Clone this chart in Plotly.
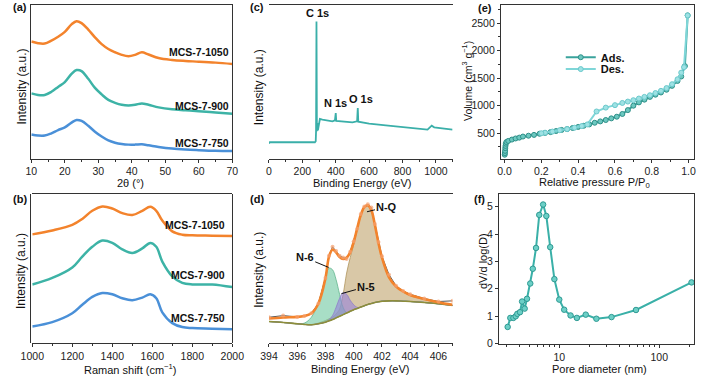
import plotly.graph_objects as go

W, H = 709, 381
FONT = "Arial"
ORANGE = "#F3832C"
TEAL = "#3DB3A6"
BLUE = "#4A90D8"
AX = "#333333"

# ---------------- (a) XRD ----------------
xrd_2theta = [10, 12, 14, 16, 18, 20, 22, 23.5, 25, 27, 29, 31, 33, 35, 37, 39, 41, 43, 45, 48, 52, 56, 60, 65, 70]
xrd_1050 = [362, 357, 356, 365, 377, 392, 415, 425, 419, 399, 375, 354, 339, 329, 321, 317, 321, 329, 322, 311, 305, 302, 300, 297, 293]
xrd_900 = [202, 197, 197, 207, 222, 237, 262, 274, 271, 247, 219, 199, 182, 173, 167, 165, 167, 171, 167, 159, 153, 150, 147, 143, 139]
xrd_750 = [75, 72, 72, 79, 89, 97, 112, 120, 117, 102, 84, 69, 57, 50, 46, 44, 44, 45, 42, 37, 32, 29, 27, 25, 24]

# ---------------- (b) Raman ----------------
raman_shift = [1000, 1100, 1200, 1250, 1300, 1350, 1400, 1450, 1500, 1550, 1590, 1620, 1650, 1700, 1750, 1800, 1900, 2000]
raman_1050 = [333, 345, 362, 380, 405, 418, 412, 398, 392, 405, 417, 405, 375, 342, 332, 330, 329, 328]
raman_900 = [180, 200, 232, 265, 295, 314, 307, 287, 276, 290, 307, 295, 250, 205, 185, 180, 180, 172]
raman_750 = [52, 65, 92, 118, 142, 154, 150, 138, 132, 140, 150, 138, 95, 62, 50, 47, 45, 43]

# ---------------- (c) XPS survey ----------------
survey_be = [0, 5, 100, 200, 275, 280, 282, 284.5, 287, 290, 293, 297, 305, 320, 350, 380, 395, 400, 403,
             450, 500, 528, 532, 535, 600, 700, 800, 900, 950, 975, 990, 1050, 1100]
survey_int = [46, 50, 50, 50, 50, 53, 83, 413, 83, 108, 86, 98, 120, 118, 115, 113, 116, 138, 114,
              113, 110, 113, 153, 112, 106, 101, 96, 91, 88, 100, 95, 91, 88]

# ---------------- (d) N 1s high resolution ----------------
n1s_be = [394, 395, 396, 396.5, 397, 397.5, 398, 398.25, 398.5, 398.75, 399, 399.25, 399.5, 399.75, 400,
          400.25, 400.5, 400.75, 401, 401.25, 401.5, 401.75, 402, 402.5, 403, 403.5, 404, 405, 406, 407]
n1s_raw = [80, 85, 81, 84, 92, 122, 200, 268, 295, 282, 268, 262, 258, 280, 312,
           350, 395, 418, 425, 415, 365, 310, 266, 210, 176, 160, 150, 137, 128, 130]
n1s_envelope = [76, 79, 81, 84, 92, 122, 200, 265, 287, 278, 264, 258, 262, 278, 310,
                352, 392, 416, 422, 407, 362, 307, 262, 202, 174, 159, 148, 136, 126, 118]
n1s_background = [67, 64, 60, 58, 57, 60, 65, 69, 73, 78, 83, 88, 93, 98, 103,
                  107, 111, 115, 119, 122, 125, 127, 129, 130, 130, 129, 128, 125, 121, 116]
n1s_N6 = [67, 64, 60, 62, 80, 125, 200, 230, 225, 195, 150, 110, 94, 98, 103,
          107, 111, 115, 119, 122, 125, 127, 129, 130, 130, 129, 128, 125, 121, 116]
n1s_N5 = [67, 64, 60, 58, 57, 60, 65, 72, 85, 110, 138, 155, 150, 132, 118,
          110, 111, 115, 119, 122, 125, 127, 129, 130, 130, 129, 128, 125, 121, 116]
n1s_NQ = [67, 64, 60, 58, 57, 62, 70, 75, 80, 90, 105, 150, 215, 262, 302,
          348, 388, 413, 419, 404, 359, 304, 259, 200, 172, 157, 146, 134, 124, 116]

# ---------------- (e) N2 isotherm ----------------
ads_p = [0.001, 0.002, 0.003, 0.004, 0.005, 0.007, 0.01, 0.02, 0.04, 0.06, 0.08, 0.1, 0.13, 0.16, 0.19, 0.22,
         0.25, 0.28, 0.31, 0.34, 0.37, 0.4, 0.43, 0.46, 0.49, 0.52, 0.55, 0.58, 0.61, 0.64, 0.67, 0.7, 0.73,
         0.76, 0.79, 0.82, 0.85, 0.88, 0.91, 0.94, 0.96, 0.98, 0.995]
ads_v = [110, 140, 180, 230, 270, 310, 340, 360, 385, 405, 420, 440, 455, 470, 490, 505,
         520, 540, 560, 575, 595, 615, 635, 660, 690, 715, 740, 770, 800, 850, 920, 1000, 1060,
         1110, 1160, 1200, 1240, 1290, 1360, 1450, 1530, 1720, 2640]
des_p = [0.995, 0.975, 0.96, 0.94, 0.91, 0.88, 0.85, 0.82, 0.79, 0.76, 0.73, 0.7, 0.67, 0.64, 0.6,
         0.55, 0.5, 0.45, 0.42, 0.38, 0.34, 0.3, 0.26, 0.22, 0.2]
des_v = [2640, 1700, 1600, 1480, 1390, 1320, 1270, 1230, 1190, 1160, 1130, 1100, 1075, 1050, 1010,
         965, 895, 660, 630, 600, 575, 555, 530, 510, 500]

# ---------------- (f) pore size distribution ----------------
pore_d = [3.05, 3.24, 3.48, 3.67, 3.81, 4.05, 4.25, 4.51, 4.76, 5.13, 5.44, 5.86, 6.31, 6.9, 7.43, 8.12,
          8.94, 10.0, 11.2, 12.97, 15.0, 18.4, 23.5, 33.3, 58.5, 210]
pore_dv = [0.60, 0.93, 0.93, 0.99, 1.08, 1.14, 1.53, 1.27, 1.63, 2.19, 2.73, 3.49, 4.70, 5.08, 4.66, 3.52,
           2.35, 1.60, 1.23, 1.02, 0.93, 1.05, 0.90, 0.96, 1.22, 2.23]


def xdom(x0, x1):
    return [x0 / W, x1 / W]


def ydom(y0, y1):
    return [1 - y1 / H, 1 - y0 / H]


TICKFONT = dict(family=FONT, size=10.5, color="#222")


def axis(dom, **kw):
    d = dict(domain=dom, showline=True, mirror=True, linecolor=AX, linewidth=1,
             showgrid=False, zeroline=False, ticks="outside", ticklen=3, tickcolor=AX,
             tickfont=TICKFONT)
    d.update(kw)
    return d


def noticks(dom, rng):
    return axis(dom, range=rng, showticklabels=False, ticks="")


def ann(text, x, y, size=11, bold=False, angle=0, xanchor="center", yanchor="middle"):
    return dict(text=("<b>%s</b>" % text) if bold else text, x=x / W, y=1 - y / H,
                xref="paper", yref="paper", showarrow=False, textangle=angle,
                xanchor=xanchor, yanchor=yanchor,
                font=dict(family=FONT, size=size, color="#111"))


fig = go.Figure()

# (a)
for ys, c in [(xrd_1050, ORANGE), (xrd_900, TEAL), (xrd_750, BLUE)]:
    fig.add_trace(go.Scatter(x=xrd_2theta, y=ys, mode="lines", line=dict(color=c, width=2.5, shape="spline"),
                             xaxis="x", yaxis="y", showlegend=False))
# (b)
for ys, c in [(raman_1050, ORANGE), (raman_900, TEAL), (raman_750, BLUE)]:
    fig.add_trace(go.Scatter(x=raman_shift, y=ys, mode="lines", line=dict(color=c, width=2.5, shape="spline"),
                             xaxis="x2", yaxis="y2", showlegend=False))
# (c)
fig.add_trace(go.Scatter(x=survey_be, y=survey_int, mode="lines", line=dict(color="#3AAFA9", width=1.8),
                         xaxis="x3", yaxis="y3", showlegend=False))

# (d) fitted components
rev_bg = n1s_background[::-1]
xs_poly = n1s_be + n1s_be[::-1]
for comp, fillc, linec in [(n1s_NQ, "rgba(196,170,120,0.65)", "#b0955e"),
                           (n1s_N6, "rgba(110,200,160,0.6)", "#62b58e"),
                           (n1s_N5, "rgba(150,130,220,0.6)", "#8f80c8")]:
    fig.add_trace(go.Scatter(x=xs_poly, y=comp + rev_bg, mode="lines", fill="toself", fillcolor=fillc,
                             line=dict(color=linec, width=0.8, shape="spline"),
                             xaxis="x4", yaxis="y4", showlegend=False, hoverinfo="skip"))
fig.add_trace(go.Scatter(x=n1s_be, y=n1s_background, mode="lines", line=dict(color="#8e8e3a", width=1.6, shape="spline"),
                         xaxis="x4", yaxis="y4", showlegend=False))
fig.add_trace(go.Scatter(x=n1s_be, y=n1s_raw, mode="lines", line=dict(color="#555555", width=1),
                         xaxis="x4", yaxis="y4", showlegend=False))
fig.add_trace(go.Scatter(x=n1s_be, y=n1s_envelope, mode="lines", line=dict(color=ORANGE, width=2.6, shape="spline"),
                         xaxis="x4", yaxis="y4", showlegend=False))
fig.add_trace(go.Scatter(x=n1s_be, y=n1s_raw, mode="markers",
                         marker=dict(size=4, color="rgba(245,160,110,0.7)", line=dict(width=0)),
                         xaxis="x4", yaxis="y4", showlegend=False))

# (e)
fig.add_trace(go.Scatter(x=ads_p, y=ads_v, mode="lines+markers", name="<b>Ads.</b>", legend="legend",
                         line=dict(color="#3AA39C", width=2),
                         marker=dict(symbol="circle", size=5, color="#6CC8C0", line=dict(color="#2E8F88", width=1)),
                         xaxis="x5", yaxis="y5"))
fig.add_trace(go.Scatter(x=des_p, y=des_v, mode="lines+markers", name="<b>Des.</b>", legend="legend2",
                         line=dict(color="#7FD6D8", width=2),
                         marker=dict(symbol="circle", size=5, color="#9EE2E4", line=dict(color="#6CC9CC", width=1)),
                         xaxis="x5", yaxis="y5"))

# (f)
fig.add_trace(go.Scatter(x=pore_d, y=pore_dv, mode="lines+markers", line=dict(color="#3AB0A8", width=2),
                         marker=dict(symbol="circle", size=5.5, color="#6CCFC6", line=dict(color="#2E9A93", width=1)),
                         xaxis="x6", yaxis="y6", showlegend=False))

minor_log = [3, 4, 5, 6, 7, 8, 9, 20, 30, 40, 50, 60, 70, 80, 90, 200]

annotations = [
    # panel letters
    ann("(a)", 8, 7, 11, True), ann("(b)", 8, 202, 11, True),
    ann("(c)", 254, 7, 11, True), ann("(d)", 254, 202, 11, True),
    ann("(e)", 490, 8, 11, True), ann("(f)", 484, 202, 11, True),
    # axis titles
    ann("Intensity (a.u.)", 10, 88, 12, angle=-90), ann("Intensity (a.u.)", 10, 275, 12, angle=-90),
    ann("Intensity (a.u.)", 256, 88, 12, angle=-90), ann("Intensity (a.u.)", 256, 273, 12, angle=-90),
    ann("Volume (cm<sup>3</sup> g<sup>−1</sup>)", 471, 82, 10.5, angle=-90),
    ann("dV/d log(D)", 487, 265, 11, angle=-90),
    ann("2θ (°)", 123, 185, 11), ann("Raman shift (cm<sup>−1</sup>)", 123, 374, 11),
    ann("Binding Energy (eV)", 362, 185, 11), ann("Binding Energy (eV)", 360, 374, 11),
    ann("Relative pressure P/P<sub>0</sub>", 603, 185, 11), ann("Pore diameter (nm)", 608, 374, 11),
    # sample labels
    ann("MCS-7-1050", 227, 53, 10.5, True, xanchor="right"),
    ann("MCS-7-900", 227, 107, 10.5, True, xanchor="right"),
    ann("MCS-7-750", 227, 145, 10.5, True, xanchor="right"),
    ann("MCS-7-1050", 223, 228, 10.5, True, xanchor="right"),
    ann("MCS-7-900", 223, 279, 10.5, True, xanchor="right"),
    ann("MCS-7-750", 223, 322, 10.5, True, xanchor="right"),
    # survey peak labels
    dict(text="<b>C 1s</b>", x=290, y=415, xref="x3", yref="y3", showarrow=False, yanchor="bottom",
         font=dict(family=FONT, size=11, color="#111")),
    dict(text="<b>N 1s</b>", x=398, y=145, xref="x3", yref="y3", showarrow=False, yanchor="bottom",
         font=dict(family=FONT, size=11, color="#111")),
    dict(text="<b>O 1s</b>", x=550, y=157, xref="x3", yref="y3", showarrow=False, yanchor="bottom",
         font=dict(family=FONT, size=11, color="#111")),
    # N 1s component labels
    dict(text="<b>N-Q</b>", x=400.94, y=402, xref="x4", yref="y4", showarrow=True, arrowhead=0,
         arrowwidth=1, arrowcolor="#111", ax=20, ay=-5, font=dict(family=FONT, size=11, color="#111")),
    dict(text="<b>N-6</b>", x=398.23, y=232, xref="x4", yref="y4", showarrow=True, arrowhead=0,
         arrowwidth=1, arrowcolor="#111", ax=-24, ay=-10, font=dict(family=FONT, size=11, color="#111")),
    dict(text="<b>N-5</b>", x=399.13, y=152, xref="x4", yref="y4", showarrow=True, arrowhead=0,
         arrowwidth=1, arrowcolor="#111", ax=25, ay=-7, font=dict(family=FONT, size=11, color="#111")),
]

LEGFONT = dict(family=FONT, size=11, color="#111")

fig.update_layout(
    width=W, height=H, margin=dict(l=0, r=0, t=0, b=0),
    paper_bgcolor="white", plot_bgcolor="white",
    font=dict(family=FONT, size=11, color="#111"),
    xaxis=axis(xdom(20, 228), range=[10, 70], dtick=10, anchor="y",
               minor=dict(dtick=5, ticks="outside", ticklen=2, tickcolor=AX)),
    yaxis=noticks(ydom(5, 161), [0, 475]),
    xaxis2=axis(xdom(21, 228), range=[1000, 2000], dtick=200, anchor="y2",
                minor=dict(dtick=100, ticks="outside", ticklen=2, tickcolor=AX)),
    yaxis2=noticks(ydom(197, 348), [0, 455]),
    xaxis3=axis(xdom(266, 456), range=[0, 1100], dtick=200, anchor="y3",
                minor=dict(dtick=100, ticks="outside", ticklen=2, tickcolor=AX)),
    yaxis3=noticks(ydom(5, 161), [0, 463]),
    xaxis4=axis(xdom(266, 456), range=[394, 407], dtick=2, anchor="y4",
                minor=dict(dtick=1, ticks="outside", ticklen=2, tickcolor=AX)),
    yaxis4=noticks(ydom(197, 348), [0, 455]),
    xaxis5=axis(xdom(506, 706), range=[-0.02, 1.03], dtick=0.2, tickformat=".1f", anchor="y5",
                minor=dict(dtick=0.1, ticks="outside", ticklen=2, tickcolor=AX)),
    yaxis5=axis(ydom(5, 161), range=[34, 2830], tickvals=[500, 1000, 1500, 2000, 2500], anchor="x5",
                minor=dict(tickvals=[250, 750, 1250, 1750, 2250, 2750], ticks="outside", ticklen=2, tickcolor=AX)),
    xaxis6=axis(xdom(504, 706), type="log", range=[0.397, 2.348], tickvals=[10, 100], anchor="y6",
                minor=dict(tickvals=minor_log, ticks="outside", ticklen=2, tickcolor=AX)),
    yaxis6=axis(ydom(197, 349), range=[-0.04, 5.45], dtick=1, anchor="x6"),
    legend=dict(x=568 / W, y=1 - 58 / H, xanchor="left", yanchor="middle", bgcolor="rgba(0,0,0,0)",
                font=LEGFONT, itemwidth=30, borderwidth=0),
    legend2=dict(x=568 / W, y=1 - 70 / H, xanchor="left", yanchor="middle", bgcolor="rgba(0,0,0,0)",
                 font=LEGFONT, itemwidth=30, borderwidth=0),
    annotations=annotations,
)

fig.write_html("out.html", config={"displayModeBar": False},
               post_script="document.body.style.margin='0';document.body.style.padding='0';"
                           "document.body.style.overflow='hidden';")
